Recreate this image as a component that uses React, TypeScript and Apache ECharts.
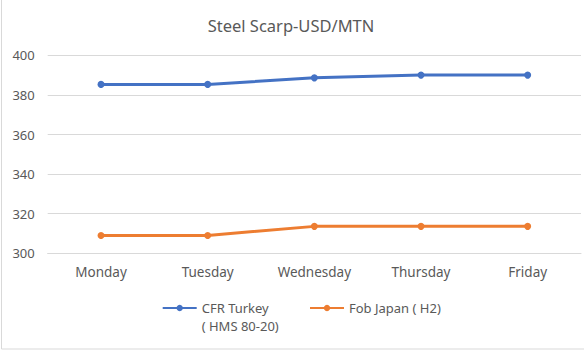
import React, { useEffect, useRef } from "react";
import * as echarts from "echarts";

const categories = ["Monday", "Tuesday", "Wednesday", "Thursday", "Friday"];
const cfrTurkey = [385.3, 385.3, 388.6, 390, 390];
const fobJapan = [309, 309, 313.6, 313.6, 313.6];
const seriesNames = ["CFR Turkey\n( HMS 80-20)", "Fob Japan ( H2)"];
const titleText = "Steel Scarp-USD/MTN";

export default function App() {
  const ref = useRef<HTMLDivElement>(null);
  useEffect(() => {
    if (!ref.current) return;
    const chart = echarts.init(ref.current, null, { renderer: "svg" });
    const font = "Noto Sans";
    const grey = "#595959";
    chart.setOption({
      animation: false,
      backgroundColor: "#ffffff",
      title: {
        text: titleText,
        left: 286,
        textAlign: "center",
        top: 12,
        textStyle: { fontFamily: font, fontSize: 16.5, fontWeight: "normal", color: grey },
      },
      legend: [
        {
          data: [seriesNames[0]],
          left: 156.7,
          top: 276,
          itemWidth: 34,
          itemHeight: 8,
          formatter: (name: string) => "\n" + name,
          textStyle: { fontFamily: font, fontSize: 13, color: grey, lineHeight: 18 },
        },
        {
          data: [seriesNames[1]],
          left: 304,
          top: 294,
          itemWidth: 34,
          itemHeight: 8,
          textStyle: { fontFamily: font, fontSize: 13, color: grey, lineHeight: 18 },
        },
      ],
      grid: { left: 47.7, right: 3, top: 55.3, bottom: 98.7, containLabel: false },
      xAxis: {
        type: "category",
        data: categories,
        boundaryGap: true,
        axisLine: { lineStyle: { color: "#d9d9d9" } },
        axisTick: { show: false },
        axisLabel: { fontFamily: font, fontSize: 13.5, color: grey, margin: 12 },
      },
      yAxis: {
        type: "value",
        min: 300,
        max: 400,
        interval: 20,
        axisLine: { show: false },
        axisTick: { show: false },
        splitLine: { lineStyle: { color: "#d9d9d9" } },
        axisLabel: { fontFamily: font, fontSize: 13, color: grey, margin: 13 },
      },
      series: [
        {
          name: seriesNames[0],
          type: "line",
          data: cfrTurkey,
          symbol: "circle",
          symbolSize: 7,
          lineStyle: { width: 3, color: "#4472C4" },
          itemStyle: { color: "#4472C4" },
        },
        {
          name: seriesNames[1],
          type: "line",
          data: fobJapan,
          symbol: "circle",
          symbolSize: 7,
          lineStyle: { width: 3, color: "#ED7D31" },
          itemStyle: { color: "#ED7D31" },
        },
      ],
      graphic: [
        {
          type: "rect",
          shape: { x: 1.5, y: -5, width: 600, height: 354 },
          style: { fill: "none", stroke: "#d9d9d9", lineWidth: 1 },
          silent: true,
        },
      ],
    });
    return () => chart.dispose();
  }, []);
  return <div ref={ref} style={{ position: "fixed", left: 0, top: 0, width: 584, height: 352 }} />;
}
